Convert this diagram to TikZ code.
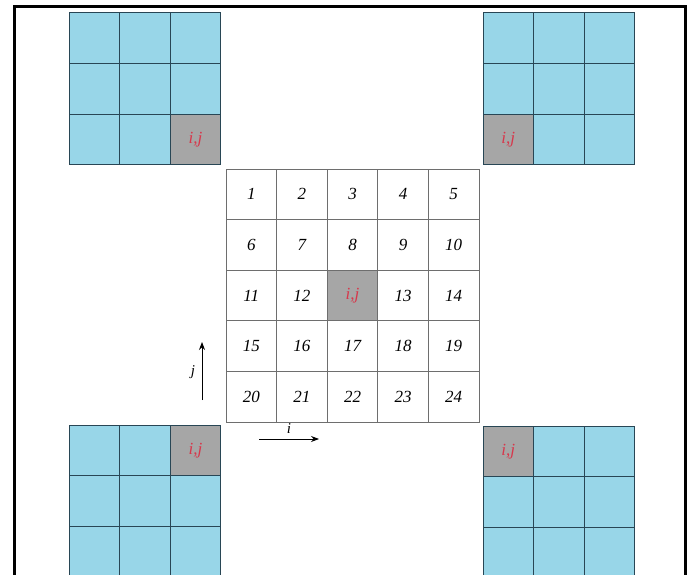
\documentclass[tikz,border=0pt]{standalone}
\usepackage{fontspec}
\setmainfont{Liberation Serif}
\usetikzlibrary{arrows.meta}
\definecolor{cyanfill}{RGB}{152,214,232}
\definecolor{gridline}{RGB}{40,70,85}
\definecolor{graycell}{RGB}{166,166,166}
\definecolor{redtxt}{RGB}{215,55,75}
\definecolor{wline}{RGB}{110,110,110}
\begin{document}
\begin{tikzpicture}[x=1pt,y=-1pt,
  bcell/.style={draw=gridline, fill=cyanfill, minimum size=50.6pt, inner sep=0pt, line width=1pt, anchor=center},
  gcell/.style={bcell, fill=graycell, text=redtxt, font=\fontsize{17}{19}\selectfont\itshape},
  wcell/.style={draw=wline, fill=white, minimum size=50.6pt, inner sep=0pt, line width=0.8pt, font=\fontsize{17}{19}\selectfont\itshape},
  wgcell/.style={wcell, fill=graycell, text=redtxt},
  axlabel/.style={font=\fontsize{15}{17}\selectfont\itshape, inner sep=0pt},
  axarrow/.style={-{Stealth[length=8pt,width=6pt]}, line width=0.8pt}]
\useasboundingbox (0,0) rectangle (691,575);
\clip (0,0) rectangle (691,575);
\fill[white] (0,0) rectangle (691,575);
% outer frame
\draw[line width=3pt] (14,7) rectangle (685,600);
% corner grids: origin x, origin y, gray col, gray row, name
\foreach \ox/\oy/\gc/\gr/\nm in {69/13/2/2/tl, 483/13/0/2/tr, 69/425/2/0/bl, 483/426/0/0/br}{
  \foreach \c in {0,1,2}{
    \foreach \r in {0,1,2}{
      \pgfmathtruncatemacro{\isg}{(\c==\gc)&&(\r==\gr)}
      \ifnum\isg=1
        \node[gcell] (\nm-\c-\r) at ({\ox+50.6*\c+25.3},{\oy+50.6*\r+25.3}) {i,j};
      \else
        \node[bcell] (\nm-\c-\r) at ({\ox+50.6*\c+25.3},{\oy+50.6*\r+25.3}) {};
      \fi
    }
  }
}
% central grid (0 marks the i,j cell)
\foreach \r/\row in {0/{1,2,3,4,5}, 1/{6,7,8,9,10}, 2/{11,12,0,13,14}, 3/{15,16,17,18,19}, 4/{20,21,22,23,24}}{
  \foreach \v [count=\ci from 0] in \row {
    \ifnum\v=0
      \node[wgcell] (m-\ci-\r) at ({226+50.6*\ci+25.3},{169+50.6*\r+25.3}) {i,j};
    \else
      \node[wcell] (m-\ci-\r) at ({226+50.6*\ci+25.3},{169+50.6*\r+25.3}) {\v};
    \fi
  }
}
% axes
\coordinate (jstart) at (202,400);
\coordinate (jend) at (202,342);
\coordinate (istart) at (259,439);
\coordinate (iend) at (319,439);
\draw[axarrow] (jstart) -- (jend);
\draw[axarrow] (istart) -- (iend);
\node[axlabel] (jlab) at (193,372) {j};
\node[axlabel] (ilab) at (289,429) {i};
\end{tikzpicture}
\end{document}
